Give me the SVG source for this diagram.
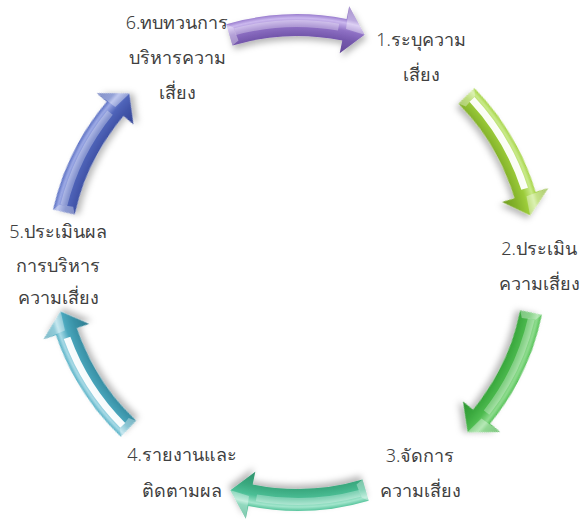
<svg xmlns="http://www.w3.org/2000/svg" xmlns:xlink="http://www.w3.org/1999/xlink" width="580" height="524" viewBox="0 0 580 524">
  <style>
    .lbl { font-family: "Noto Sans", "DejaVu Sans", sans-serif; font-size: 18px; font-weight: 300; fill: #404040; text-anchor: middle; }
    .stripe { fill: #ffffff; }
    .facet { fill: #ffffff; opacity: 0.35; }
  </style>
  <defs>
    <filter id="shadow" x="-30%" y="-30%" width="160%" height="160%">
      <feDropShadow dx="2" dy="4" stdDeviation="3" flood-color="#000" flood-opacity="0.28"/>
    </filter>
    <path id="arrow" d="M -70.7,-0.7 A 249 249 0 0 1 49.6,-6.0 L 52.2,-18.7 L 67.6,9.8 L 42.7,28.3 L 45.3,15.6 A 227 227 0 0 0 -64.5,20.4 Z"/>
    <path id="hl" d="M -62.9,3.3 A 243 243 0 0 1 42.2,-1.3 L 41.0,5.6 A 236 236 0 0 0 -61.1,10.0 Z"/>
    <path id="bevel" d="M -70.7,-0.7 L -64.5,20.4 L -58.5,15.5 L -63.5,2.5 Z"/>
    <path id="headfacet" d="M 52.2,-18.7 L 67.6,9.8 L 49,4 Z"/>
    <radialGradient id="gPurple" gradientUnits="userSpaceOnUse" cx="0" cy="238" r="262">
      <stop offset="0.80" stop-color="#5f4392"/><stop offset="0.87" stop-color="#7558ad"/>
      <stop offset="0.905" stop-color="#8e70c4"/><stop offset="0.935" stop-color="#cbb8ee"/>
      <stop offset="0.95" stop-color="#9a7ecf"/><stop offset="1" stop-color="#7a5cb3"/>
    </radialGradient>
    <radialGradient id="gLime" gradientUnits="userSpaceOnUse" cx="0" cy="238" r="262">
      <stop offset="0.80" stop-color="#68951c"/><stop offset="0.87" stop-color="#86b52c"/>
      <stop offset="0.905" stop-color="#9ccc3a"/><stop offset="0.935" stop-color="#c9ea8a"/>
      <stop offset="0.95" stop-color="#a6d447"/><stop offset="1" stop-color="#7fab27"/>
    </radialGradient>
    <radialGradient id="gGreen" gradientUnits="userSpaceOnUse" cx="0" cy="238" r="262">
      <stop offset="0.80" stop-color="#2b8f2f"/><stop offset="0.87" stop-color="#3aa83e"/>
      <stop offset="0.905" stop-color="#4dbb4f"/><stop offset="0.935" stop-color="#8fdc8f"/>
      <stop offset="0.95" stop-color="#55c257"/><stop offset="1" stop-color="#3aa63d"/>
    </radialGradient>
    <radialGradient id="gTeal" gradientUnits="userSpaceOnUse" cx="0" cy="238" r="262">
      <stop offset="0.80" stop-color="#2a8a66"/><stop offset="0.87" stop-color="#3aa97f"/>
      <stop offset="0.905" stop-color="#4cbf96"/><stop offset="0.935" stop-color="#a2e5cc"/>
      <stop offset="0.95" stop-color="#58c59d"/><stop offset="1" stop-color="#3aa880"/>
    </radialGradient>
    <radialGradient id="gCyan" gradientUnits="userSpaceOnUse" cx="0" cy="238" r="262">
      <stop offset="0.80" stop-color="#2a7589"/><stop offset="0.87" stop-color="#3991a6"/>
      <stop offset="0.905" stop-color="#4aa7bd"/><stop offset="0.935" stop-color="#a9dbe7"/>
      <stop offset="0.95" stop-color="#55b0c5"/><stop offset="1" stop-color="#3a93a8"/>
    </radialGradient>
    <radialGradient id="gBlue" gradientUnits="userSpaceOnUse" cx="0" cy="238" r="262">
      <stop offset="0.80" stop-color="#2f4090"/><stop offset="0.87" stop-color="#4154a8"/>
      <stop offset="0.905" stop-color="#5065ba"/><stop offset="0.935" stop-color="#9eabe6"/>
      <stop offset="0.95" stop-color="#5a6fc2"/><stop offset="1" stop-color="#4357aa"/>
    </radialGradient>
  </defs>

  <g id="connectors">
    <g id="arrow-6-1" transform="translate(297,25) rotate(0)">
      <use xlink:href="#arrow" href="#arrow" fill="url(#gPurple)" filter="url(#shadow)"/>
      <use xlink:href="#hl" href="#hl" class="stripe" opacity="0.3"/>
      <use xlink:href="#bevel" href="#bevel" class="facet"/>
      <use xlink:href="#headfacet" href="#headfacet" class="facet"/>
    </g>
    <g id="arrow-1-2" transform="translate(507,151) rotate(62)">
      <use xlink:href="#arrow" href="#arrow" fill="url(#gLime)" filter="url(#shadow)"/>
      <use xlink:href="#hl" href="#hl" class="stripe" opacity="0.95"/>
      <use xlink:href="#bevel" href="#bevel" class="facet"/>
      <use xlink:href="#headfacet" href="#headfacet" class="facet"/>
    </g>
    <g id="arrow-2-3" transform="translate(508,377) rotate(118)">
      <use xlink:href="#arrow" href="#arrow" fill="url(#gGreen)" filter="url(#shadow)"/>
      <use xlink:href="#hl" href="#hl" class="stripe" opacity="0.3"/>
      <use xlink:href="#bevel" href="#bevel" class="facet"/>
      <use xlink:href="#headfacet" href="#headfacet" class="facet"/>
    </g>
    <g id="arrow-3-4" transform="translate(298,500) rotate(180)">
      <use xlink:href="#arrow" href="#arrow" fill="url(#gTeal)" filter="url(#shadow)"/>
      <use xlink:href="#hl" href="#hl" class="stripe" opacity="0.3"/>
      <use xlink:href="#bevel" href="#bevel" class="facet"/>
      <use xlink:href="#headfacet" href="#headfacet" class="facet"/>
    </g>
    <g id="arrow-4-5" transform="translate(86,375) rotate(240)">
      <use xlink:href="#arrow" href="#arrow" fill="url(#gCyan)" filter="url(#shadow)"/>
      <use xlink:href="#hl" href="#hl" class="stripe" opacity="0.95"/>
      <use xlink:href="#bevel" href="#bevel" class="facet"/>
      <use xlink:href="#headfacet" href="#headfacet" class="facet"/>
    </g>
    <g id="arrow-5-6" transform="translate(88,148) rotate(299)">
      <use xlink:href="#arrow" href="#arrow" fill="url(#gBlue)" filter="url(#shadow)"/>
      <use xlink:href="#hl" href="#hl" class="stripe" opacity="0.3"/>
      <use xlink:href="#bevel" href="#bevel" class="facet"/>
      <use xlink:href="#headfacet" href="#headfacet" class="facet"/>
    </g>
  </g>

  <g id="node-1">
    <text class="lbl" x="421" y="46">1.ระบุความ</text>
    <text class="lbl" x="421" y="81">เสี่ยง</text>
  </g>
  <g id="node-2">
    <text class="lbl" x="539" y="255">2.ประเมิน</text>
    <text class="lbl" x="539" y="290">ความเสี่ยง</text>
  </g>
  <g id="node-3">
    <text class="lbl" x="420" y="462">3.จัดการ</text>
    <text class="lbl" x="420" y="497">ความเสี่ยง</text>
  </g>
  <g id="node-4">
    <text class="lbl" x="182" y="461">4.รายงานและ</text>
    <text class="lbl" x="182" y="497">ติดตามผล</text>
  </g>
  <g id="node-5">
    <text class="lbl" x="58" y="238">5.ประเมินผล</text>
    <text class="lbl" x="58" y="272">การบริหาร</text>
    <text class="lbl" x="58" y="304">ความเสี่ยง</text>
  </g>
  <g id="node-6">
    <text class="lbl" x="177" y="29">6.ทบทวนการ</text>
    <text class="lbl" x="177" y="64">บริหารความ</text>
    <text class="lbl" x="177" y="99">เสี่ยง</text>
  </g>
</svg>
